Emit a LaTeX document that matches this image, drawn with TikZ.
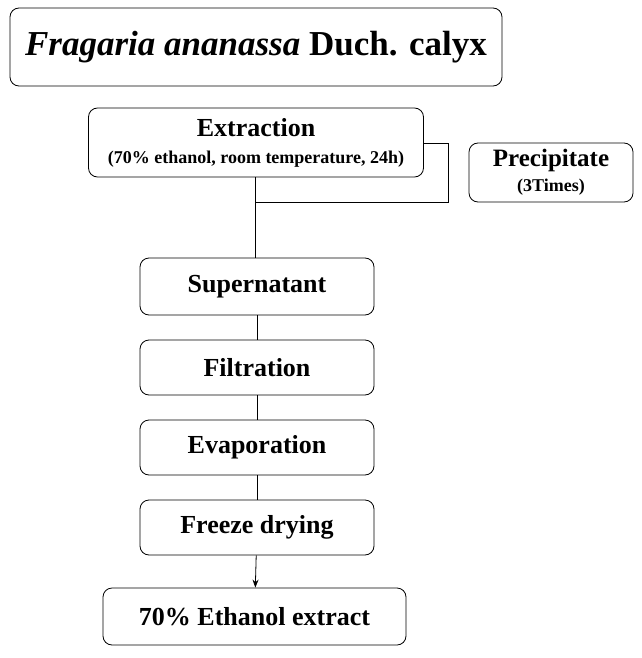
\documentclass[tikz,border=0pt]{standalone}
\usepackage{fontspec}
\setmainfont{Liberation Serif}
\usetikzlibrary{arrows.meta}

\tikzset{
  stepbox/.style={draw,thick,rounded corners=9pt,align=center,font=\bfseries\fontsize{26}{30}\selectfont,inner sep=0pt},
  link/.style={line width=0.8pt},
}

\begin{document}
\begin{tikzpicture}[x=1pt,y=-1pt]
        % frame
        \useasboundingbox (0,0) rectangle (641,658);

        % boxes
        \node[stepbox,minimum width=492,minimum height=78,font=\bfseries\fontsize{35}{40}\selectfont] (title) at (256,47) {\textit{Fragaria ananassa} Duch. calyx};
        \node[stepbox,minimum width=335,minimum height=69] (extr) at (256,142.5) {Extraction\\[-3pt]{\fontsize{18}{20}\selectfont (70\% ethanol, room temperature, 24h)}};
        \node[stepbox,minimum width=164,minimum height=59,font=\bfseries\fontsize{25}{28}\selectfont] (prec) at (551,172.5) {Precipitate\\[-3pt]{\fontsize{18}{20}\selectfont (3Times)}};
        \node[stepbox,minimum width=234,minimum height=57] (sup) at (257,286.5) {Supernatant};
        \node[stepbox,minimum width=234,minimum height=55] (filt) at (257,367.5) {Filtration};
        \node[stepbox,minimum width=234,minimum height=55] (evap) at (257,447.5) {Evaporation};
        \node[stepbox,minimum width=234,minimum height=55] (frz) at (257,527.5) {Freeze drying};
        \node[stepbox,minimum width=303,minimum height=57] (ext) at (254.5,616.5) {70\% Ethanol extract};

        % connectors
        \coordinate (side) at (448,143);
        \draw[link] (extr.south -| 255,0) -- (sup.north -| 255,0);
        \draw[link] (extr.east |- side) -- (side) -- (448,202) -- (255,202);
        \draw[link] (sup) -- (filt);
        \draw[link] (filt) -- (evap);
        \draw[link] (evap) -- (frz);
        \draw[link,-{Stealth[length=8pt,width=6pt]}] (frz) -- (ext);
\end{tikzpicture}
\end{document}
